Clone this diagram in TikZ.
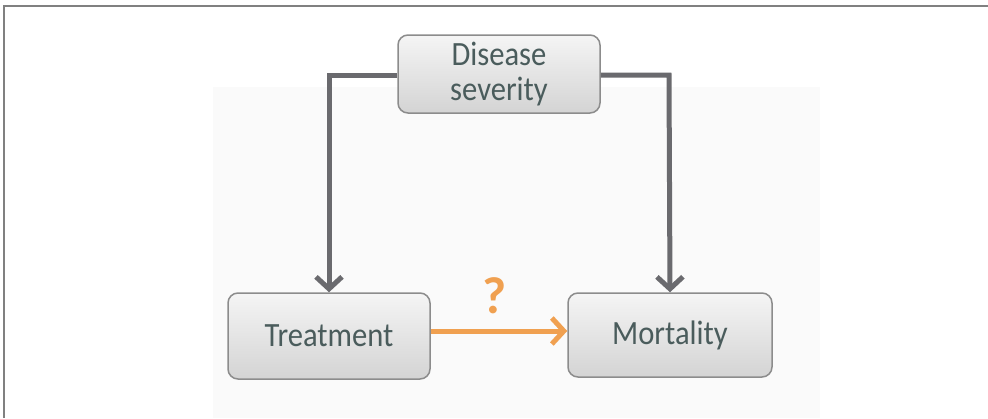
\documentclass[tikz,border=0pt]{standalone}
\usepackage{fontspec}
\setmainfont{Carlito}[FakeStretch=0.9]
\newfontfamily\qfont{Carlito Bold}
\usetikzlibrary{arrows.meta,positioning}
\definecolor{txt}{HTML}{4A5C5C}
\definecolor{edge}{HTML}{8C8C8C}
\definecolor{arr}{HTML}{6A6A6E}
\definecolor{orng}{HTML}{F0A050}
\tikzset{
  box/.style={draw=edge, line width=1.5pt, rounded corners=10pt, top color=black!4, bottom color=black!17,
    text=txt, font=\fontsize{34}{35}\selectfont, align=center, inner sep=0pt},
  grayarrow/.style={draw=arr, line width=5pt, -{Straight Barb[length=12pt,width=26pt,line width=5pt]}},
  orangearrow/.style={draw=orng, line width=5pt, -{Straight Barb[length=12pt,width=26pt,line width=5pt]}},
}
\begin{document}
\begin{tikzpicture}[x=1pt,y=-1pt]
\useasboundingbox (0,0) rectangle (988,418);
\fill[white] (0,0) rectangle (988,418);
\fill[black!2] (213,87) rectangle (820,418);
\draw[black!50, line width=2pt] (4,418) -- (4,6) -- (988,6);
\node[box, minimum width=202pt, minimum height=78pt] (dis) at (499,74) {Disease\\severity};
\node[box, minimum width=202pt, minimum height=86pt] (tre) at (329,336) {Treatment};
\node[box, minimum width=204pt, minimum height=84pt] (mor) at (670,335) {Mortality};
\coordinate (l) at (329,75);
\coordinate (r) at (669,75);
\draw[grayarrow] (dis.west |- l) -- (l) -- (tre.north);
\draw[grayarrow] (dis.east |- r) -- (r) -- (mor.north);
\draw[orangearrow] (tre.east |- 0,331) -- (mor.west |- 0,331);
\node[text=orng, font=\qfont\fontsize{52}{54}\selectfont, inner sep=0pt] (q) at (495,296) {?};
\end{tikzpicture}
\end{document}
